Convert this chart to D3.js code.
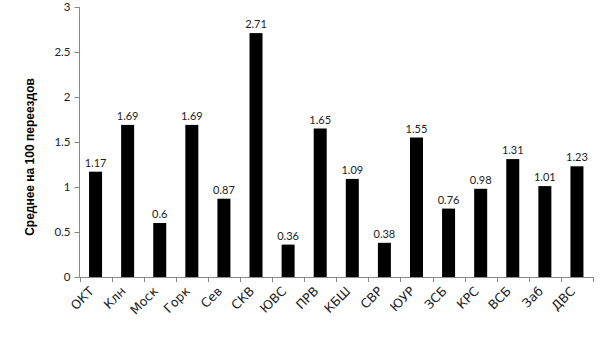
<!DOCTYPE html>
<html><head><meta charset="utf-8">
<script src="https://cdn.jsdelivr.net/npm/d3@7"></script>
<style>body{margin:0;background:#fff}svg{display:block}</style>
</head><body>
<svg id="c" width="605" height="340"></svg>
<script>
const categories = ["ОКТ","Клн","Моск","Горк","Сев","СКВ","ЮВС","ПРВ","КБШ","СВР","ЮУР","ЗСБ","КРС","ВСБ","Заб","ДВС"];
const values = [1.17,1.69,0.6,1.69,0.87,2.71,0.36,1.65,1.09,0.38,1.55,0.76,0.98,1.31,1.01,1.23];
const yTicks = [0,0.5,1,1.5,2,2.5,3];
const yTitle = "Среднее на 100 переездов";

(function(){
const svg = d3.select("#c");
const mL = 79.5, mR = 593, mT = 7, mB = 277;
const font = "Lato, 'Open Sans', sans-serif";
const catFont = "'DejaVu Sans', sans-serif";
const xb = d3.scaleBand().domain(categories).range([mL, mR]);
const y = d3.scaleLinear().domain([0,3]).range([mB, mT]);

// x axis
svg.append("line").attr("x1", mL).attr("x2", mR).attr("y1", mB+0.5).attr("y2", mB+0.5).attr("stroke", "#888");
const bounds = categories.map(c=>xb(c)).concat([mR]);
svg.selectAll("line.xt").data(bounds).join("line").attr("class", "xt")
  .attr("x1", d=>Math.round(d)+0.5).attr("x2", d=>Math.round(d)+0.5)
  .attr("y1", mB).attr("y2", mB+5).attr("stroke", "#888");

// y axis
const ya = svg.append("g").attr("transform", `translate(${mL},0)`)
  .call(d3.axisLeft(y).tickValues(yTicks).tickSize(5).tickPadding(4).tickFormat(d=>String(d)));
ya.select(".domain").attr("stroke", "#888").attr("d", `M0,${y(3)}V${mB+0.5}`);
ya.selectAll(".tick line").attr("stroke", "#888");
ya.selectAll("text").attr("font-family", font).attr("font-size", 11.5).attr("fill", "#222");

// bars
svg.selectAll("rect.bar").data(values).join("rect").attr("class", "bar")
  .attr("x", (d,i)=>xb(categories[i]) + xb.bandwidth()/2 - 6.5)
  .attr("width", 13)
  .attr("y", d=>y(d)).attr("height", d=>mB - y(d))
  .attr("fill", "#000");

// value labels
svg.selectAll("text.vl").data(values).join("text").attr("class", "vl")
  .attr("x", (d,i)=>xb(categories[i]) + xb.bandwidth()/2)
  .attr("y", d=>y(d) - 5)
  .attr("text-anchor", "middle")
  .attr("font-family", font).attr("font-size", 11).attr("fill", "#222")
  .text(d=>String(d));

// category labels (rotated -45deg)
const cg = svg.selectAll("g.cl").data(categories).join("g").attr("class", "cl")
  .attr("transform", c=>`translate(${xb(c)+xb.bandwidth()/2-1},${mB+15})`);
cg.append("text")
  .attr("transform", "rotate(-45)")
  .attr("text-anchor", "end")
  .attr("font-family", catFont).attr("font-size", 12.5).attr("fill", "#222")
  .text(c=>c);

// y title
svg.append("text")
  .attr("transform", `translate(34,157) rotate(-90)`)
  .attr("text-anchor", "middle")
  .attr("font-family", "'Liberation Sans', Arial, sans-serif").attr("font-size", 12).attr("font-weight", "bold").attr("fill", "#000")
  .text(yTitle);
})();
</script>
</body></html>
